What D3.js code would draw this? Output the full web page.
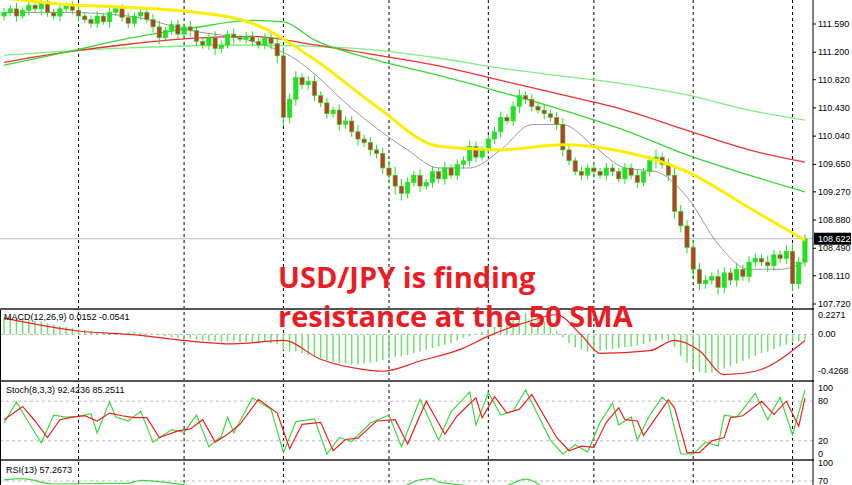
<!DOCTYPE html>
<html>
<head>
<script src="https://d3js.org/d3.v7.min.js"></script>
<style>body{margin:0;background:#fff}text{font-family:"Liberation Sans",Arial,sans-serif}</style>
</head>
<body>
<svg width="852" height="485"></svg>
<script>
// closes per candle (open = previous close)
var closes = [111.75,111.8,111.7,111.78,111.85,111.8,111.9,111.75,111.7,111.8,111.85,111.78,111.7,
  111.65,111.6,111.7,111.62,111.75,111.8,111.68,111.6,111.7,111.75,111.65,111.55,
  111.4,111.5,111.58,111.45,111.55,111.5,111.35,111.3,111.4,111.25,111.3,111.45,111.4,111.38,111.42,111.35,111.3,111.4,111.32,111.15,
  110.3,110.55,110.85,110.75,110.8,110.6,110.5,110.35,110.4,110.2,110.25,110.1,110.0,109.95,109.85,109.8,109.6,109.5,109.35,109.25,
  109.4,109.5,109.35,109.4,109.55,109.45,109.6,109.5,109.65,109.7,109.9,109.75,109.85,110.0,110.1,110.3,110.25,110.45,110.6,110.55,
  110.45,110.4,110.35,110.3,110.2,109.85,109.7,109.55,109.5,109.6,109.55,109.5,109.6,109.55,109.45,
  109.6,109.5,109.4,109.55,109.7,109.75,109.65,109.5,109.0,108.8,
  108.5,108.2,108.0,108.05,108.1,107.95,108.15,108.05,108.2,108.1,108.3,108.35,108.3,108.25,108.4,108.35,108.45,108.0,108.3,108.62];
var wick = [0.06,0.05,0.08,0.04,0.07,0.05,0.09,0.06,0.05,0.07,0.04,0.06,0.08,0.05,0.06,0.07,0.04,0.08,0.05,0.06,
  0.07,0.05,0.06,0.04,0.08,0.09,0.05,0.06,0.07,0.05,0.08,0.06,0.05,0.07,0.09,0.06,0.05,0.08,0.04,0.06,
  0.07,0.05,0.06,0.08,0.1,0.12,0.08,0.09,0.06,0.07,0.08,0.06,0.07,0.05,0.08,0.06,0.07,0.09,0.06,0.08,
  0.07,0.08,0.1,0.12,0.1,0.07,0.06,0.08,0.05,0.07,0.06,0.08,0.05,0.07,0.06,0.08,0.07,0.05,0.06,0.07,
  0.08,0.05,0.07,0.09,0.06,0.07,0.05,0.08,0.06,0.07,0.09,0.06,0.05,0.07,0.06,0.08,0.05,0.07,0.06,0.05,
  0.07,0.06,0.08,0.05,0.07,0.1,0.06,0.08,0.1,0.09,0.08,0.1,0.09,0.07,0.06,0.1,0.08,0.07,0.09,0.06,
  0.08,0.07,0.06,0.09,0.07,0.06,0.08,0.1,0.07,0.06];
// moving averages [candle index, price]
var sma50 = [[0,111.95],[10,111.86],[20,111.82],[30,111.76],[40,111.6],[50,111.1],[60,110.45],[70,109.9],[80,109.85],[90,109.92],[100,109.82],[110,109.55],[120,109.05],[129,108.6]];
var sma20 = [[0,111.75],[10,111.75],[20,111.7],[30,111.5],[40,111.35],[47,111.1],[50,110.9],[55,110.5],[60,110.15],[65,109.85],[70,109.6],[75,109.6],[80,109.85],[85,110.2],[90,110.2],[95,109.9],[100,109.6],[105,109.55],[110,109.2],[115,108.55],[120,108.2],[125,108.2],[129,108.3]];
var sma100 = [[0,111.02],[10,111.2],[20,111.39],[30,111.53],[40,111.64],[45,111.62],[50,111.37],[60,111.09],[70,110.88],[80,110.65],[90,110.4],[100,110.12],[110,109.78],[120,109.5],[129,109.27]];
var sma150 = [[0,111.06],[10,111.2],[20,111.31],[30,111.39],[40,111.42],[50,111.3],[60,111.16],[70,111.01],[80,110.81],[90,110.61],[100,110.4],[110,110.12],[120,109.85],[129,109.68]];
var sma200 = [[0,111.16],[20,111.26],[40,111.3],[50,111.28],[60,111.23],[70,111.12],[80,110.98],[90,110.87],[100,110.76],[110,110.61],[120,110.4],[129,110.26]];
var priceTicks = [111.590,111.200,110.820,110.430,110.040,109.650,109.270,108.880,108.490,108.110,107.720];
var macdHist = [0.2,0.2,0.19,0.18,0.17,0.16,0.15,0.13,0.12,0.1,0.09,0.08,0.06,
  0.05,0.04,0.03,0.03,0.02,0.02,0.01,0.02,0.03,0.02,0.01,0.0,
  -0.01,-0.02,-0.03,-0.04,-0.05,-0.05,-0.06,-0.07,-0.08,-0.08,-0.09,-0.08,-0.08,-0.09,-0.09,-0.1,-0.1,-0.09,-0.1,-0.11,
  -0.18,-0.2,-0.2,-0.22,-0.24,-0.26,-0.28,-0.3,-0.32,-0.33,-0.34,-0.35,-0.35,-0.34,-0.33,-0.32,-0.3,-0.28,-0.26,-0.25,
  -0.24,-0.22,-0.2,-0.18,-0.16,-0.14,-0.12,-0.1,-0.07,-0.04,-0.02,0.0,0.03,0.06,0.09,0.12,0.15,0.18,0.22,0.25,
  0.24,0.2,0.15,0.1,0.04,-0.04,-0.1,-0.15,-0.18,-0.2,-0.2,-0.19,-0.18,-0.17,-0.16,
  -0.15,-0.14,-0.13,-0.11,-0.09,-0.07,-0.06,-0.07,-0.15,-0.25,
  -0.33,-0.4,-0.44,-0.45,-0.44,-0.42,-0.4,-0.37,-0.34,-0.31,-0.28,-0.25,-0.22,-0.2,-0.17,-0.14,-0.12,-0.1,-0.08,-0.06];
var macdSignal = [[0,0.19],[12,0.04],[22,-0.01],[29,-0.07],[37,-0.11],[45,-0.07],[51,-0.29],[58,-0.41],[61,-0.43],[67,-0.31],[74,-0.16],[78,-0.02],[84,0.14],[89,0.23],[93,-0.01],[96,-0.22],[104,-0.19],[108,-0.07],[112,-0.19],[116,-0.47],[121,-0.43],[129,-0.07]];
var stochK = [[0,47],[2,79],[4,47],[6,17],[8,59],[10,56],[12,57],[14,61],[15,32],[17,79],[18,56],[20,50],[22,65],[24,18],[27,37],[29,33],[31,59],[33,11],[35,27],[36,56],[37,32],[40,85],[43,68],[45,2],[47,49],[50,53],[52,0],[54,25],[56,19],[59,47],[62,59],[64,11],[67,83],[70,21],[72,64],[75,94],[76,44],[78,93],[80,59],[82,65],[84,97],[88,21],[90,0],[92,14],[94,3],[96,48],[98,77],[99,44],[101,56],[102,21],[104,59],[106,86],[107,77],[109,0],[111,0],[113,18],[115,12],[116,59],[118,56],[121,92],[123,52],[125,86],[127,29],[129,97]];
var stochD = [[0,52],[3,72],[5,50],[7,25],[9,52],[11,56],[13,58],[15,50],[17,62],[19,58],[21,55],[23,55],[25,25],[28,35],[30,38],[32,52],[34,18],[36,30],[38,45],[41,83],[44,62],[46,8],[48,45],[51,48],[53,5],[55,22],[57,24],[60,50],[63,52],[65,15],[68,80],[71,30],[73,58],[76,85],[77,55],[79,87],[81,62],[83,68],[85,90],[89,25],[91,5],[93,12],[95,10],[97,48],[99,70],[100,52],[102,50],[103,28],[105,55],[107,82],[108,70],[110,2],[112,2],[114,20],[116,25],[117,55],[119,58],[122,80],[124,60],[126,80],[128,42],[129,85]];
var rsi = [[0,72],[3,74],[8,65],[20,66],[22,71],[30,62],[45,35],[60,40],[67,72],[69,74],[70,68],[80,60],[84,73],[90,40],[110,25],[125,60],[129,57]];
var gridIdx = [12,29,45,62,78,95,111,127];

var svg = d3.select("svg");
var W = 813;
var x = d3.scaleBand().domain(d3.range(closes.length)).range([0, 809]).padding(0.3);
var cx = function(i) { return x(i) + x.bandwidth() / 2; };

// panels
var yP = d3.scaleLinear().domain([107.72, 111.59]).range([304, 24]);
var yM = d3.scaleLinear().domain([-0.4268, 0.2271]).range([371, 315]);
var yS = d3.scaleLinear().domain([0, 100]).range([454, 388]);
var yR = d3.scaleLinear().domain([70, 100]).range([481, 463]);

var defs = svg.append("defs");
[["cp",0,0,308],["cm",310,0,69],["cs",382,0,76],["cr",461,0,24]].forEach(function(c) {
  defs.append("clipPath").attr("id", c[0]).append("rect").attr("x", 0).attr("y", c[1]).attr("width", W).attr("height", c[3]);
});

// vertical grid
svg.append("g").selectAll("line").data(gridIdx).enter().append("line")
  .attr("x1", cx).attr("x2", cx).attr("y1", 0).attr("y2", 485)
  .attr("stroke", "#000").attr("stroke-dasharray", "3,3").attr("stroke-width", 1);

// main panel
var gP = svg.append("g").attr("clip-path", "url(#cp)");
gP.append("line").attr("x1", 0).attr("x2", W).attr("y1", yP(108.622)).attr("y2", yP(108.622)).attr("stroke", "#b8bcc8");
var line = function(ys) { return d3.line().x(function(d) { return cx(d[0]); }).y(function(d) { return ys(d[1]); }).curve(d3.curveMonotoneX); };
gP.append("path").attr("d", line(yP)(sma200)).attr("fill", "none").attr("stroke", "#7ef07e").attr("stroke-width", 1.3);
gP.append("path").attr("d", line(yP)(sma150)).attr("fill", "none").attr("stroke", "#f03030").attr("stroke-width", 1.3);
gP.append("path").attr("d", line(yP)(sma100)).attr("fill", "none").attr("stroke", "#38d838").attr("stroke-width", 1.3);
gP.append("path").attr("d", line(yP)(sma20)).attr("fill", "none").attr("stroke", "#999").attr("stroke-width", 1);

var cd = gP.append("g");
closes.forEach(function(c, i) {
  var o = i ? closes[i - 1] : c - 0.05;
  var w = wick[i];
  var hi = Math.max(o, c) + w, lo = Math.min(o, c) - w;
  cd.append("line").attr("x1", cx(i)).attr("x2", cx(i)).attr("y1", yP(hi)).attr("y2", yP(lo)).attr("stroke", "#22e022");
  cd.append("rect").attr("x", x(i)).attr("width", x.bandwidth())
    .attr("y", yP(Math.max(o, c))).attr("height", Math.max(1, yP(Math.min(o, c)) - yP(Math.max(o, c))))
    .attr("fill", c >= o ? "#22e022" : "#c0392b").attr("stroke", "#22e022").attr("stroke-width", 0.6);
});
gP.append("path").attr("d", line(yP)(sma50)).attr("fill", "none").attr("stroke", "#ffee00").attr("stroke-width", 3);

// price axis
var axP = svg.append("g");
priceTicks.forEach(function(t) {
  axP.append("line").attr("x1", W).attr("x2", W + 3).attr("y1", yP(t)).attr("y2", yP(t)).attr("stroke", "#000");
  axP.append("text").attr("x", W + 5).attr("y", yP(t) + 3).attr("font-size", 9).text(t.toFixed(3));
});
axP.append("rect").attr("x", W + 1).attr("y", yP(108.622) - 6).attr("width", 37).attr("height", 12).attr("fill", "#000");
axP.append("text").attr("x", W + 5).attr("y", yP(108.622) + 3).attr("font-size", 9).attr("fill", "#fff").text("108.622");

// MACD
var gM = svg.append("g").attr("clip-path", "url(#cm)");
gM.append("line").attr("x1", 0).attr("x2", W).attr("y1", yM(0)).attr("y2", yM(0)).attr("stroke", "#bbb").attr("stroke-dasharray", "3,3");
gM.selectAll("line.h").data(macdHist).enter().append("line").attr("class", "h")
  .attr("x1", function(d, i) { return cx(i); }).attr("x2", function(d, i) { return cx(i); })
  .attr("y1", yM(0)).attr("y2", function(d) { return yM(d); }).attr("stroke", "#6ee06e").attr("stroke-width", 1.5);
gM.append("path").attr("d", line(yM)(macdSignal)).attr("fill", "none").attr("stroke", "#f02020").attr("stroke-width", 1.2);

// Stochastic
var gS = svg.append("g").attr("clip-path", "url(#cs)");
[20, 80].forEach(function(v) {
  gS.append("line").attr("x1", 0).attr("x2", W).attr("y1", yS(v)).attr("y2", yS(v)).attr("stroke", "#bbb").attr("stroke-dasharray", "3,3");
});
var lin = function(ys) { return d3.line().x(function(d) { return cx(d[0]); }).y(function(d) { return ys(d[1]); }); };
gS.append("path").attr("d", lin(yS)(stochK)).attr("fill", "none").attr("stroke", "#40d840").attr("stroke-width", 1.2);
gS.append("path").attr("d", lin(yS)(stochD)).attr("fill", "none").attr("stroke", "#f02020").attr("stroke-width", 1.2);

// RSI
var gR = svg.append("g").attr("clip-path", "url(#cr)");
gR.append("line").attr("x1", 0).attr("x2", W).attr("y1", yR(70)).attr("y2", yR(70)).attr("stroke", "#bbb").attr("stroke-dasharray", "3,3");
gR.append("path").attr("d", line(yR)(rsi)).attr("fill", "none").attr("stroke", "#40d840").attr("stroke-width", 1.2);

// panel frames
[308, 380, 459].forEach(function(y) {
  svg.append("rect").attr("x", 0).attr("y", y).attr("width", W + 1).attr("height", 2).attr("fill", "#555");
});
svg.append("line").attr("x1", W).attr("x2", W).attr("y1", 0).attr("y2", 485).attr("stroke", "#000");
svg.append("line").attr("x1", 0.5).attr("x2", 0.5).attr("y1", 310).attr("y2", 485).attr("stroke", "#000");

var sub = [[0.2271, yM, "0.2271"], [0, yM, "0.00"], [-0.4268, yM, "-0.4268"], [100, yS, "100"], [80, yS, "80"], [20, yS, "20"], [0, yS, "0"], [100, yR, "100"], [70, yR, "70"]];
sub.forEach(function(s) {
  svg.append("text").attr("x", W + 5).attr("y", s[1](s[0]) + 3).attr("font-size", 9).text(s[2]);
});
svg.append("text").attr("x", 4).attr("y", 320).attr("font-size", 9).text("MACD(12,26,9) 0.0152 -0.0541");
svg.append("text").attr("x", 6).attr("y", 393).attr("font-size", 9).text("Stoch(8,3,3) 92.4236 85.2511");
svg.append("text").attr("x", 6).attr("y", 473).attr("font-size", 9).text("RSI(13) 57.2673");

// headline
var hl = svg.append("g").attr("font-weight", "bold").attr("font-size", 29).attr("fill", "#ec1c24");
hl.append("text").attr("x", 278).attr("y", 288).style("font-family", "'Open Sans',sans-serif").text("USD/JPY is finding");
hl.append("text").attr("x", 278).attr("y", 327).style("font-family", "'Open Sans',sans-serif").text("resistance at the 50 SMA");
</script>
</body>
</html>
